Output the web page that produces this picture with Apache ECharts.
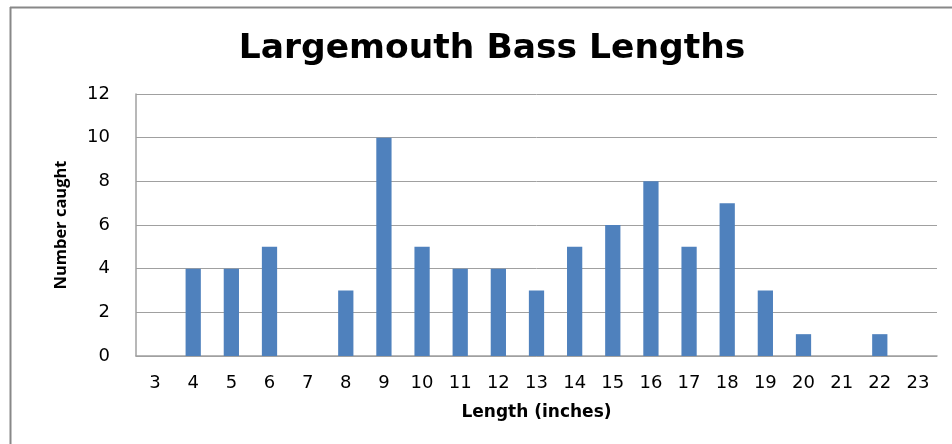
<!DOCTYPE html>
<html>
<head>
<meta charset="utf-8">
<script src="https://cdn.jsdelivr.net/npm/echarts@6/dist/echarts.min.js"></script>
<style>html,body{margin:0;padding:0;background:#fff}#c{width:952px;height:444px}</style>
</head>
<body>
<div id="c"></div>
<script>
const categories = ['3','4','5','6','7','8','9','10','11','12','13','14','15','16','17','18','19','20','21','22','23'];
const counts = [0,4,4,5,0,3,10,5,4,4,3,5,6,8,5,7,3,1,0,1,0];
const yTicks = {min: 0, max: 12, interval: 2};

const chart = echarts.init(document.getElementById('c'), null, {renderer: 'canvas'});
const wide = 'DejaVu Sans';
chart.setOption({
  animation: false,
  backgroundColor: '#fff',
  title: {
    text: 'Largemouth Bass Lengths',
    left: 487, top: 27, textAlign: 'center',
    textStyle: {fontFamily: wide, fontWeight: 'bold', fontSize: 34.5, color: '#000'}
  },
  grid: {left: 136, top: 94, right: 15, bottom: 88},
  xAxis: {
    type: 'category',
    data: categories,
    name: 'Length (inches)',
    nameLocation: 'middle',
    nameGap: 48,
    nameTextStyle: {fontFamily: wide, fontWeight: 'bold', fontSize: 17, color: '#000'},
    axisLine: {lineStyle: {color: '#a0a0a0', width: 1.5}},
    axisTick: {show: false},
    axisLabel: {fontFamily: wide, fontSize: 18, color: '#000', margin: 18}
  },
  yAxis: {
    type: 'value',
    min: yTicks.min, max: yTicks.max, interval: yTicks.interval,
    name: 'Number caught',
    nameLocation: 'middle',
    nameGap: 66,
    nameTextStyle: {fontFamily: 'Open Sans', fontWeight: 'bold', fontSize: 16.5, color: '#000'},
    axisLine: {show: true, lineStyle: {color: '#a0a0a0', width: 1.5}},
    axisTick: {show: false},
    splitLine: {lineStyle: {color: '#a0a0a0', width: 1}},
    axisLabel: {fontFamily: wide, fontSize: 18, color: '#000', margin: 26, padding: [2, 0, 0, 0]}
  },
  series: [{
    type: 'bar',
    data: counts,
    barWidth: '40%',
    itemStyle: {color: '#4F81BD'}
  }],
  graphic: [
    {type: 'line', shape: {x1: 10, y1: 7.5, x2: 952, y2: 7.5}, style: {stroke: '#888', lineWidth: 2}},
    {type: 'line', shape: {x1: 10.5, y1: 7, x2: 10.5, y2: 444}, style: {stroke: '#888', lineWidth: 2}}
  ]
});
</script>
</body>
</html>
